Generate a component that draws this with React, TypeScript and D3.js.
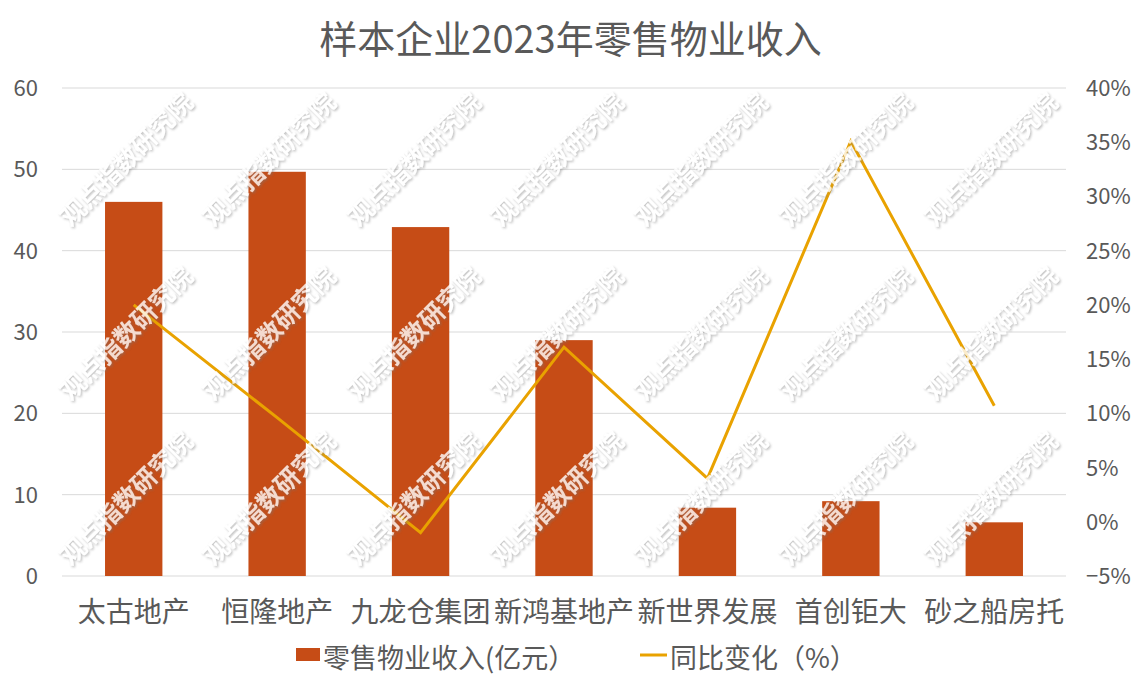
import React from "react";
import * as d3 from "d3";

const categories = ["太古地产", "恒隆地产", "九龙仓集团", "新鸿基地产", "新世界发展", "首创钜大", "砂之船房托"];
const revenue = [46.0, 49.7, 42.9, 29.0, 8.4, 9.2, 6.6];
const yoy = [20.0, 9.6, -1.0, 16.1, 4.0, 35.1, 10.7];
const leftTicks = [0, 10, 20, 30, 40, 50, 60];
const rightTicks = [-5, 0, 5, 10, 15, 20, 25, 30, 35, 40];
const title = "样本企业2023年零售物业收入";
const barLegend = "零售物业收入(亿元）";
const lineLegend = "同比变化（%）";
const watermark = "观点指数研究院";
const wmX = [125, 268, 413, 556, 700, 845, 990];
const wmY = [158, 332, 497];

const W = 1141, H = 685;
const left = 62, right = 1066, top = 88, bottom = 576;
const font = "'Noto Sans CJK SC', 'Noto Sans', sans-serif";
const textColor = "#595959";
const barColor = "#C64C16";
const lineColor = "#E9A200";

export default function App() {
  const x = d3.scaleBand<string>().domain(categories).range([left, right]).paddingInner(0.6).paddingOuter(0.3);
  const xc = (c: string) => (x(c) as number) + x.bandwidth() / 2;
  const yL = d3.scaleLinear().domain([0, 60]).range([bottom, top]);
  const yR = d3.scaleLinear().domain([-5, 40]).range([bottom, top]);
  const line = d3.line<number>().x((_, i) => xc(categories[i])).y(d => yR(d));

  return (
    <svg width={W} height={H} style={{ position: "absolute", left: 0, top: 0, background: "#fff" }} fontFamily={font}>
      <defs>
        <filter id="wmshadow" x="-20%" y="-20%" width="140%" height="140%">
          <feDropShadow dx="1.3" dy="1.3" stdDeviation="1" floodColor="#777" floodOpacity="0.6" />
        </filter>
      </defs>
      <rect x={0} y={0} width={W} height={H} fill="#fff" />
      <text x={W / 2} y={53} textAnchor="middle" fontSize={38} fill={textColor}>{title}</text>
      {leftTicks.map(t => (
        <g key={"g" + t}>
          <line x1={left} x2={right} y1={yL(t)} y2={yL(t)} stroke="#D9D9D9" strokeWidth={1} />
          <text x={38} y={yL(t) + 8} textAnchor="end" fontSize={22} fill={textColor}>{t}</text>
        </g>
      ))}
      {rightTicks.map(t => (
        <text key={"r" + t} x={1086} y={yR(t) + 8} textAnchor="start" fontSize={22} fill={textColor}>{(t < 0 ? "−" + (-t) : t) + "%"}</text>
      ))}
      {categories.map((c, i) => (
        <rect key={c} x={x(c)} y={yL(revenue[i])} width={x.bandwidth()} height={yL(0) - yL(revenue[i])} fill={barColor} />
      ))}
      <path d={line(yoy) || ""} fill="none" stroke={lineColor} strokeWidth={3} strokeLinejoin="miter" />
      <g filter="url(#wmshadow)" opacity={0.8}>
        {wmY.map(wy => wmX.map(wx => (
          <text key={wx + "-" + wy} x={wx} y={wy} transform={`rotate(-45 ${wx} ${wy})`} textAnchor="middle" dominantBaseline="central" fontSize={25} fontWeight={700} fill="#fff">{watermark}</text>
        )))}
      </g>
      {categories.map(c => (
        <text key={"l" + c} x={xc(c)} y={622} textAnchor="middle" fontSize={28} fill={textColor}>{c}</text>
      ))}
      <rect x={296} y={648} width={24} height={13} fill={barColor} />
      <text x={323} y={668} fontSize={27} fill={textColor}>{barLegend}</text>
      <line x1={640} x2={667} y1={655} y2={655} stroke={lineColor} strokeWidth={3} />
      <text x={670} y={668} fontSize={27} fill={textColor}>{lineLegend}</text>
    </svg>
  );
}
